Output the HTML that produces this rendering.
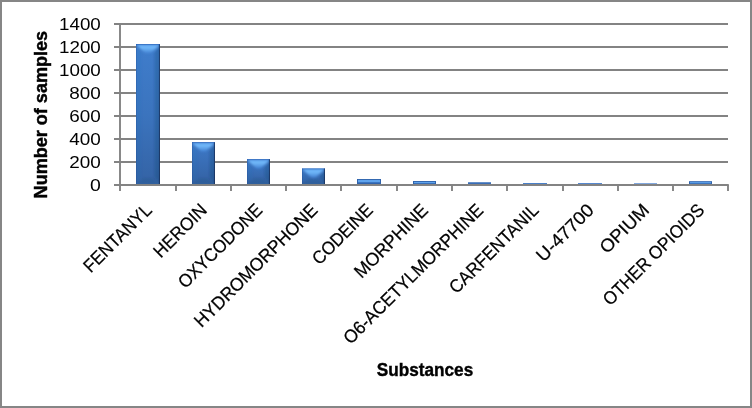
<!DOCTYPE html>
<html><head><meta charset="utf-8"><title>chart</title>
<style>html,body{margin:0;padding:0;background:#fff}svg{display:block}text{font-family:"Liberation Sans",sans-serif;fill:#000}</style></head><body>
<svg width="752" height="408" viewBox="0 0 752 408">
<defs>
<linearGradient id="gb" x1="0" y1="0" x2="0" y2="1"><stop offset="0" stop-color="#3f7dcc"/><stop offset="0.5" stop-color="#3b74be"/><stop offset="1" stop-color="#3463a5"/></linearGradient>
<linearGradient id="gbs" x1="0" y1="0" x2="0" y2="1"><stop offset="0" stop-color="#3e7ac9"/><stop offset="1" stop-color="#3361a2"/></linearGradient>
<filter id="bl" x="-20%" y="-20%" width="140%" height="140%"><feGaussianBlur stdDeviation="0.9"/></filter>
<linearGradient id="gt" x1="0" y1="0" x2="0" y2="1"><stop offset="0" stop-color="#62a8f2"/><stop offset="0.3" stop-color="#74bbfb"/><stop offset="1" stop-color="#4282d3"/></linearGradient>
<linearGradient id="gr" x1="0" y1="0" x2="1" y2="0"><stop offset="0" stop-color="#1f4478" stop-opacity="0"/><stop offset="1" stop-color="#1f4478" stop-opacity="0.9"/></linearGradient>
</defs>
<rect x="0" y="0" width="752" height="408" fill="#fff"/>
<line x1="114" y1="161.95" x2="728.0" y2="161.95" stroke="#838383" stroke-width="1.9"/>
<line x1="114" y1="138.95" x2="728.0" y2="138.95" stroke="#838383" stroke-width="1.9"/>
<line x1="114" y1="115.95" x2="728.0" y2="115.95" stroke="#838383" stroke-width="1.9"/>
<line x1="114" y1="92.95" x2="728.0" y2="92.95" stroke="#838383" stroke-width="1.9"/>
<line x1="114" y1="69.95" x2="728.0" y2="69.95" stroke="#838383" stroke-width="1.9"/>
<line x1="114" y1="46.95" x2="728.0" y2="46.95" stroke="#838383" stroke-width="1.9"/>
<line x1="114" y1="23.95" x2="728.0" y2="23.95" stroke="#838383" stroke-width="1.9"/>
<clipPath id="c0"><rect x="136.00" y="44.00" width="24.0" height="140.05"/></clipPath>
<g clip-path="url(#c0)">
<rect x="136.00" y="44.00" width="24.0" height="140.05" fill="url(#gb)"/>
<g filter="url(#bl)">
<polygon points="160.00,44.00 154.50,52.50 154.50,177.05 160.00,184.05" fill="#16305e" fill-opacity="0.22"/>
<polygon points="136.00,44.00 141.50,52.50 141.50,177.05 136.00,184.05" fill="#2a62b8" fill-opacity="0.08"/>
<polygon points="136.00,184.05 160.00,184.05 153.00,178.05 143.00,178.05" fill="#1c2f55" fill-opacity="0.11"/>
<polygon points="136.30,44.80 159.70,44.80 150.50,53.30 145.50,53.30" fill="url(#gt)"/>
</g>
<rect x="158.90" y="44.00" width="1.1" height="140.05" fill="#14284f" fill-opacity="0.7"/>
<rect x="136.00" y="44.00" width="0.8" height="140.05" fill="#1e4a90" fill-opacity="0.35"/>
<rect x="136.00" y="44.00" width="24.0" height="0.9" fill="#2a5fb0" fill-opacity="0.55"/>
</g>
<clipPath id="c1"><rect x="192.00" y="142.10" width="23.0" height="41.95"/></clipPath>
<g clip-path="url(#c1)">
<rect x="192.00" y="142.10" width="23.0" height="41.95" fill="url(#gbs)"/>
<g filter="url(#bl)">
<polygon points="215.00,142.10 209.50,150.60 209.50,177.05 215.00,184.05" fill="#16305e" fill-opacity="0.22"/>
<polygon points="192.00,142.10 197.50,150.60 197.50,177.05 192.00,184.05" fill="#2a62b8" fill-opacity="0.08"/>
<polygon points="192.00,184.05 215.00,184.05 208.00,178.05 199.00,178.05" fill="#1c2f55" fill-opacity="0.11"/>
<polygon points="192.30,142.90 214.70,142.90 205.50,151.40 201.50,151.40" fill="url(#gt)"/>
</g>
<rect x="213.90" y="142.10" width="1.1" height="41.95" fill="#14284f" fill-opacity="0.7"/>
<rect x="192.00" y="142.10" width="0.8" height="41.95" fill="#1e4a90" fill-opacity="0.35"/>
<rect x="192.00" y="142.10" width="23.0" height="0.9" fill="#2a5fb0" fill-opacity="0.55"/>
</g>
<clipPath id="c2"><rect x="247.00" y="159.10" width="23.0" height="24.95"/></clipPath>
<g clip-path="url(#c2)">
<rect x="247.00" y="159.10" width="23.0" height="24.95" fill="url(#gbs)"/>
<g filter="url(#bl)">
<polygon points="270.00,159.10 264.50,167.60 264.50,177.05 270.00,184.05" fill="#16305e" fill-opacity="0.22"/>
<polygon points="247.00,159.10 252.50,167.60 252.50,177.05 247.00,184.05" fill="#2a62b8" fill-opacity="0.08"/>
<polygon points="247.00,184.05 270.00,184.05 263.00,178.05 254.00,178.05" fill="#1c2f55" fill-opacity="0.11"/>
<polygon points="247.30,159.90 269.70,159.90 260.50,168.40 256.50,168.40" fill="url(#gt)"/>
</g>
<rect x="268.90" y="159.10" width="1.1" height="24.95" fill="#14284f" fill-opacity="0.7"/>
<rect x="247.00" y="159.10" width="0.8" height="24.95" fill="#1e4a90" fill-opacity="0.35"/>
<rect x="247.00" y="159.10" width="23.0" height="0.9" fill="#2a5fb0" fill-opacity="0.55"/>
</g>
<clipPath id="c3"><rect x="302.00" y="168.30" width="23.0" height="15.75"/></clipPath>
<g clip-path="url(#c3)">
<rect x="302.00" y="168.30" width="23.0" height="15.75" fill="url(#gbs)"/>
<g filter="url(#bl)">
<polygon points="325.00,168.30 319.50,176.80 319.50,177.05 325.00,184.05" fill="#16305e" fill-opacity="0.22"/>
<polygon points="302.00,168.30 307.50,176.80 307.50,177.05 302.00,184.05" fill="#2a62b8" fill-opacity="0.08"/>
<polygon points="302.00,184.05 325.00,184.05 318.00,178.05 309.00,178.05" fill="#1c2f55" fill-opacity="0.11"/>
<polygon points="302.30,169.10 324.70,169.10 315.50,177.60 311.50,177.60" fill="url(#gt)"/>
</g>
<rect x="323.90" y="168.30" width="1.1" height="15.75" fill="#14284f" fill-opacity="0.7"/>
<rect x="302.00" y="168.30" width="0.8" height="15.75" fill="#1e4a90" fill-opacity="0.35"/>
<rect x="302.00" y="168.30" width="23.0" height="0.9" fill="#2a5fb0" fill-opacity="0.55"/>
</g>
<clipPath id="c4"><rect x="357.00" y="179.00" width="24.0" height="5.05"/></clipPath>
<g clip-path="url(#c4)">
<rect x="357.00" y="179.00" width="24.0" height="5.05" fill="url(#gbs)"/>
<rect x="357.00" y="179.00" width="24.0" height="5.05" fill="#2f62ab"/>
<rect x="358.00" y="179.90" width="22.0" height="2.32" fill="#5fa3ec"/>
<rect x="358.00" y="182.22" width="22.0" height="0.52" fill="#3f7ccb"/>
</g>
<clipPath id="c5"><rect x="413.00" y="181.00" width="23.0" height="3.05"/></clipPath>
<g clip-path="url(#c5)">
<rect x="413.00" y="181.00" width="23.0" height="3.05" fill="url(#gbs)"/>
<rect x="413.00" y="181.00" width="23.0" height="3.05" fill="#2f62ab"/>
<rect x="414.00" y="181.90" width="21.0" height="1.32" fill="#5fa3ec"/>
<rect x="414.00" y="183.22" width="21.0" height="0.00" fill="#3f7ccb"/>
</g>
<clipPath id="c6"><rect x="468.00" y="182.30" width="23.0" height="1.75"/></clipPath>
<g clip-path="url(#c6)">
<rect x="468.00" y="182.30" width="23.0" height="1.75" fill="url(#gbs)"/>
<rect x="468.00" y="182.30" width="23.0" height="2.2" fill="#3a6db5"/>
</g>
<clipPath id="c7"><rect x="523.00" y="182.90" width="24.0" height="1.15"/></clipPath>
<g clip-path="url(#c7)">
<rect x="523.00" y="182.90" width="24.0" height="1.15" fill="url(#gbs)"/>
<rect x="523.00" y="182.90" width="24.0" height="2.2" fill="#4a80c9"/>
</g>
<clipPath id="c8"><rect x="578.00" y="182.90" width="24.0" height="1.15"/></clipPath>
<g clip-path="url(#c8)">
<rect x="578.00" y="182.90" width="24.0" height="1.15" fill="url(#gbs)"/>
<rect x="578.00" y="182.90" width="24.0" height="2.2" fill="#5688cf"/>
</g>
<clipPath id="c9"><rect x="634.00" y="182.90" width="23.0" height="1.15"/></clipPath>
<g clip-path="url(#c9)">
<rect x="634.00" y="182.90" width="23.0" height="1.15" fill="url(#gbs)"/>
<rect x="634.00" y="182.90" width="23.0" height="2.2" fill="#82a8de"/>
</g>
<clipPath id="c10"><rect x="689.00" y="181.20" width="23.0" height="2.85"/></clipPath>
<g clip-path="url(#c10)">
<rect x="689.00" y="181.20" width="23.0" height="2.85" fill="url(#gbs)"/>
<rect x="689.00" y="181.20" width="23.0" height="2.85" fill="#2f62ab"/>
<rect x="690.00" y="182.10" width="21.0" height="1.22" fill="#5fa3ec"/>
<rect x="690.00" y="183.32" width="21.0" height="0.00" fill="#3f7ccb"/>
</g>
<line x1="120.0" y1="23.1" x2="120.0" y2="185.75" stroke="#838383" stroke-width="1.9"/>
<line x1="114" y1="184.95" x2="728.8" y2="184.95" stroke="#838383" stroke-width="1.9"/>
<line x1="114" y1="23.95" x2="120.0" y2="23.95" stroke="#838383" stroke-width="1.9"/>
<line x1="120.00" y1="184.95" x2="120.00" y2="190.9" stroke="#838383" stroke-width="1.9"/>
<line x1="176.00" y1="184.95" x2="176.00" y2="190.9" stroke="#838383" stroke-width="1.9"/>
<line x1="231.00" y1="184.95" x2="231.00" y2="190.9" stroke="#838383" stroke-width="1.9"/>
<line x1="286.00" y1="184.95" x2="286.00" y2="190.9" stroke="#838383" stroke-width="1.9"/>
<line x1="341.00" y1="184.95" x2="341.00" y2="190.9" stroke="#838383" stroke-width="1.9"/>
<line x1="397.00" y1="184.95" x2="397.00" y2="190.9" stroke="#838383" stroke-width="1.9"/>
<line x1="452.00" y1="184.95" x2="452.00" y2="190.9" stroke="#838383" stroke-width="1.9"/>
<line x1="507.00" y1="184.95" x2="507.00" y2="190.9" stroke="#838383" stroke-width="1.9"/>
<line x1="563.00" y1="184.95" x2="563.00" y2="190.9" stroke="#838383" stroke-width="1.9"/>
<line x1="618.00" y1="184.95" x2="618.00" y2="190.9" stroke="#838383" stroke-width="1.9"/>
<line x1="673.00" y1="184.95" x2="673.00" y2="190.9" stroke="#838383" stroke-width="1.9"/>
<line x1="728.00" y1="184.95" x2="728.00" y2="190.9" stroke="#838383" stroke-width="1.9"/>
<g style="opacity:0.999">
<text x="100.8" y="191.05" font-size="17.4" text-anchor="end" textLength="10.8" lengthAdjust="spacingAndGlyphs">0</text>
<text x="100.8" y="168.05" font-size="17.4" text-anchor="end" textLength="31.5" lengthAdjust="spacingAndGlyphs">200</text>
<text x="100.8" y="145.05" font-size="17.4" text-anchor="end" textLength="31.5" lengthAdjust="spacingAndGlyphs">400</text>
<text x="100.8" y="122.05" font-size="17.4" text-anchor="end" textLength="31.5" lengthAdjust="spacingAndGlyphs">600</text>
<text x="100.8" y="99.05" font-size="17.4" text-anchor="end" textLength="31.5" lengthAdjust="spacingAndGlyphs">800</text>
<text x="100.8" y="76.05" font-size="17.4" text-anchor="end" textLength="41.8" lengthAdjust="spacingAndGlyphs">1000</text>
<text x="100.8" y="53.05" font-size="17.4" text-anchor="end" textLength="41.8" lengthAdjust="spacingAndGlyphs">1200</text>
<text x="100.8" y="30.05" font-size="17.4" text-anchor="end" textLength="41.8" lengthAdjust="spacingAndGlyphs">1400</text>
<text transform="translate(152.84,211.3) rotate(-45)" font-size="18.3" stroke="#000" stroke-width="0.25" text-anchor="end" textLength="87.9" lengthAdjust="spacingAndGlyphs">FENTANYL</text>
<text transform="translate(208.11,211.3) rotate(-45)" font-size="18.3" stroke="#000" stroke-width="0.25" text-anchor="end" textLength="67.1" lengthAdjust="spacingAndGlyphs">HEROIN</text>
<text transform="translate(263.38,211.3) rotate(-45)" font-size="18.3" stroke="#000" stroke-width="0.25" text-anchor="end" textLength="110.1" lengthAdjust="spacingAndGlyphs">OXYCODONE</text>
<text transform="translate(318.65,211.3) rotate(-45)" font-size="18.3" stroke="#000" stroke-width="0.25" text-anchor="end" textLength="165.5" lengthAdjust="spacingAndGlyphs">HYDROMORPHONE</text>
<text transform="translate(373.93,211.3) rotate(-45)" font-size="18.3" stroke="#000" stroke-width="0.25" text-anchor="end" textLength="76.9" lengthAdjust="spacingAndGlyphs">CODEINE</text>
<text transform="translate(429.20,211.3) rotate(-45)" font-size="18.3" stroke="#000" stroke-width="0.25" text-anchor="end" textLength="95.7" lengthAdjust="spacingAndGlyphs">MORPHINE</text>
<text transform="translate(484.47,211.3) rotate(-45)" font-size="18.3" stroke="#000" stroke-width="0.25" text-anchor="end" textLength="189.1" lengthAdjust="spacingAndGlyphs">O6-ACETYLMORPHINE</text>
<text transform="translate(539.75,211.3) rotate(-45)" font-size="18.3" stroke="#000" stroke-width="0.25" text-anchor="end" textLength="117.6" lengthAdjust="spacingAndGlyphs">CARFENTANIL</text>
<text transform="translate(595.02,211.3) rotate(-45)" font-size="18.3" stroke="#000" stroke-width="0.25" text-anchor="end" textLength="72.8" lengthAdjust="spacingAndGlyphs">U-47700</text>
<text transform="translate(650.29,211.3) rotate(-45)" font-size="18.3" stroke="#000" stroke-width="0.25" text-anchor="end" textLength="61.2" lengthAdjust="spacingAndGlyphs">OPIUM</text>
<text transform="translate(705.56,211.3) rotate(-45)" font-size="18.3" stroke="#000" stroke-width="0.25" text-anchor="end" textLength="134.7" lengthAdjust="spacingAndGlyphs">OTHER OPIOIDS</text>
<text transform="translate(46.8,198.4) rotate(-90)" font-size="17.7" font-weight="bold" stroke="#000" stroke-width="0.45" textLength="167.5" lengthAdjust="spacingAndGlyphs">Number of samples</text>
<text x="376.8" y="375.6" font-size="18" font-weight="bold" stroke="#000" stroke-width="0.4" textLength="96.4" lengthAdjust="spacingAndGlyphs">Substances</text>
</g>
<rect x="1" y="1" width="750" height="406" fill="none" stroke="#868686" stroke-width="2"/>
</svg></body></html>
